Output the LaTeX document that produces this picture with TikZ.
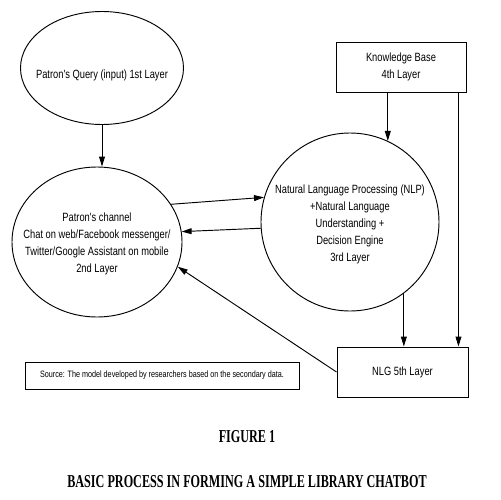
\documentclass[tikz,border=0pt]{standalone}
\usepackage{fontspec}
\setmainfont{Liberation Serif}
\newfontfamily\diagfont[FakeStretch=0.78]{Liberation Sans}
\newfontfamily\capfont[FakeStretch=0.67]{Liberation Serif}
\usetikzlibrary{shapes.geometric, arrows.meta}

\begin{document}
\begin{tikzpicture}[
    x=0.03cm, y=-0.03cm,
    every node/.style={align=center, inner sep=1pt, font=\diagfont\fontsize{10.2}{14.5}\selectfont},
    bubble/.style={ellipse, draw=black, line width=0.8pt},
    layerbox/.style={rectangle, draw=black, line width=0.8pt},
    arrow/.style={-{Triangle[length=8.5pt, width=5pt]}, line width=0.8pt},
    note/.style={font=\diagfont\fontsize{7.9}{9}\selectfont},
    caption/.style={font=\capfont\bfseries\fontsize{15.5}{18}\selectfont}
]
    \useasboundingbox (0,0) rectangle (500,500);

    % layer shapes
    \node[bubble, minimum width=4.89cm, minimum height=3.39cm] (query) at (102,68) {};
    \node (querytext) at (102,75) {Patron's Query (input) 1st Layer};
    \node[bubble, minimum width=5.1cm, minimum height=4.5cm] (chan) at (97,242) {};
    \node (chantext) at (97,244) {Patron's channel\\Chat on web/Facebook messenger/\\Twitter/Google Assistant on mobile\\2nd Layer};
    \node[circle, draw=black, line width=0.8pt, minimum size=5.34cm] (nlp) at (350,222) {};
    \node (nlptext) at (350,224) {Natural Language  Processing (NLP)\\+Natural Language\\Understanding +\\Decision Engine\\3rd Layer};
    \node[layerbox, minimum width=3.9cm, minimum height=1.5cm] (kb) at (401,67) {Knowledge Base\\4th Layer};
    \node[layerbox, minimum width=3.93cm, minimum height=1.5cm] (nlg) at (402.5,372) {NLG 5th Layer};
    \node[layerbox, note, minimum width=8.22cm, minimum height=0.81cm] (source) at (162,375.5) {Source: The model developed by researchers based on the secondary data.};

    % caption
    \node[caption] (fig) at (247,437) {FIGURE 1};
    \node[caption] (title) at (247,482) {BASIC PROCESS IN FORMING A SIMPLE LIBRARY CHATBOT};

    % flows
    \coordinate (kbtap) at ([xshift=-0.24cm]kb.south east);
    \draw[arrow] (query.south) -- (query.south |- chan.north);
    \draw[arrow] (chan.27) -- (nlp.164);
    \draw[arrow] (nlp.184) -- (chan.7);
    \draw[arrow] (nlp.65 |- kb.south) -- (nlp.65);
    \draw[arrow] (kbtap) -- (kbtap |- nlg.north);
    \draw[arrow] (nlp.-53) -- (nlp.-53 |- nlg.north);
    \draw[arrow] (nlg.west) -- (chan.-17);
\end{tikzpicture}
\end{document}
